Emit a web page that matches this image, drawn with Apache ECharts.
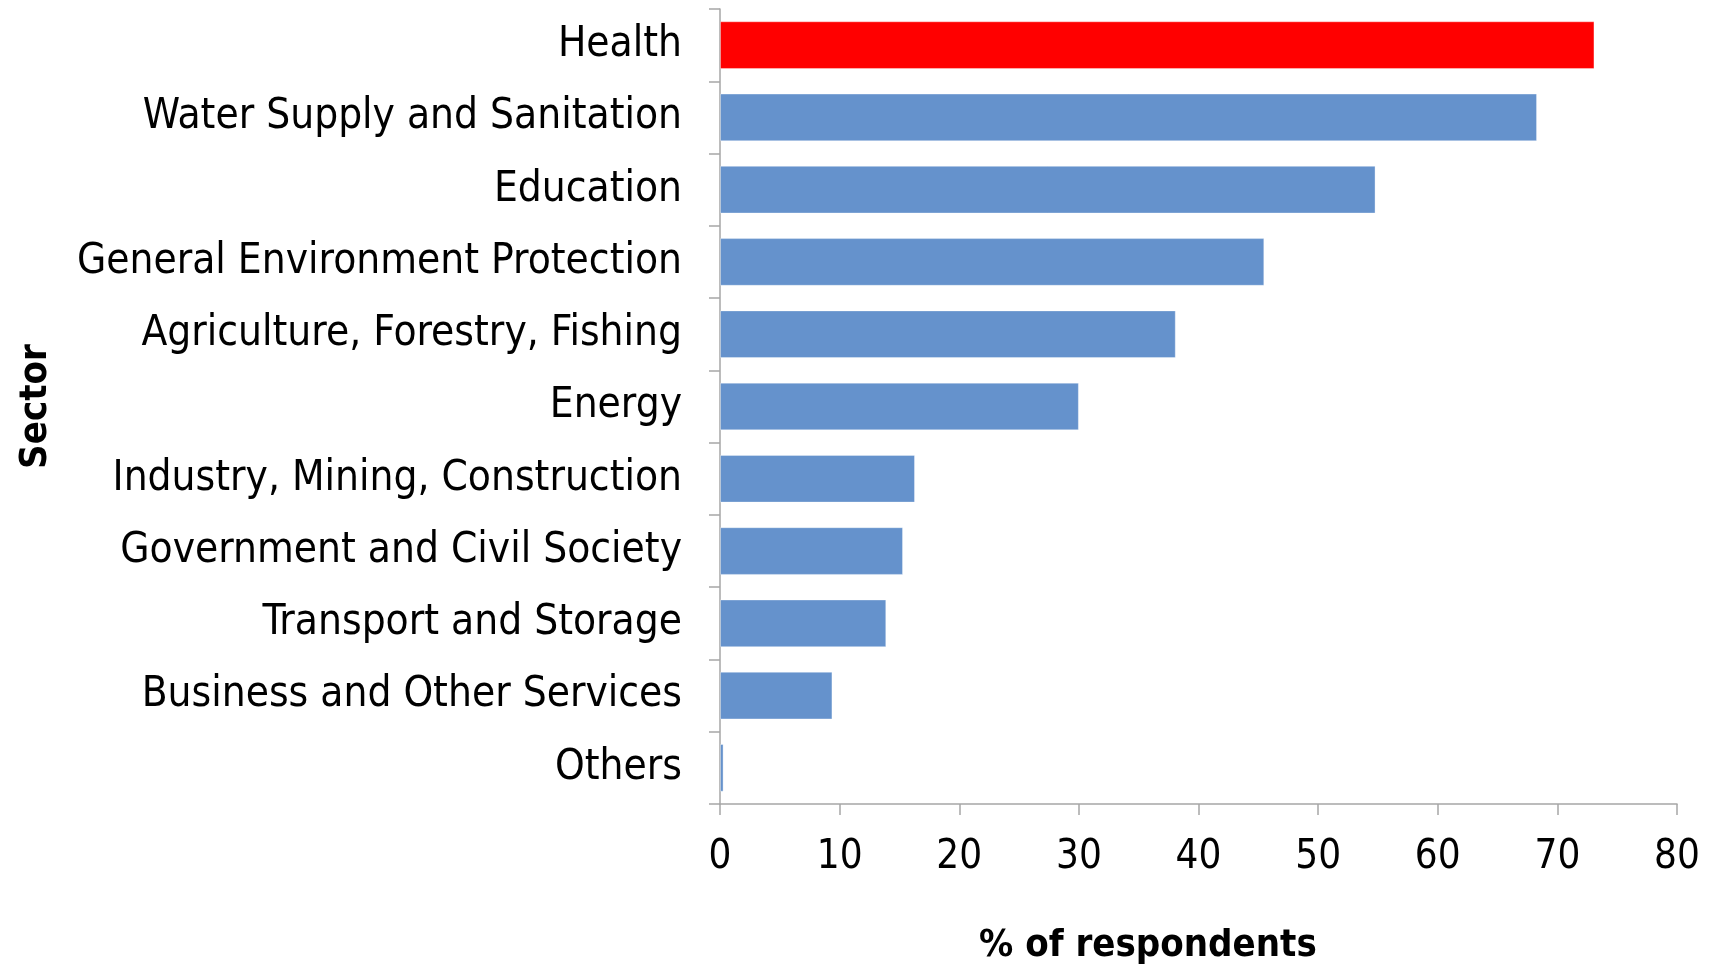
<!DOCTYPE html>
<html>
<head>
<meta charset="utf-8">
<script src="https://cdn.jsdelivr.net/npm/echarts@6/dist/echarts.min.js"></script>
<style>
html,body{margin:0;padding:0;background:#fff;}
#chart{width:1711px;height:966px;}
</style>
</head>
<body>
<div id="chart"></div>
<script>
const categories = [
  "Health",
  "Water Supply and Sanitation",
  "Education",
  "General Environment Protection",
  "Agriculture, Forestry, Fishing",
  "Energy",
  "Industry, Mining, Construction",
  "Government and Civil Society",
  "Transport and Storage",
  "Business and Other Services",
  "Others"
];
const values = [73.1, 68.3, 54.8, 45.5, 38.1, 30.0, 16.3, 15.3, 13.9, 9.4, 0.3];
const xTicks = [0, 10, 20, 30, 40, 50, 60, 70, 80];
const highlight = "Health";

const FONT = '"DejaVu Sans Condensed", "DejaVu Sans", sans-serif';
const chart = echarts.init(document.getElementById('chart'));
chart.setOption({
  animation: false,
  grid: {left: 720, right: 34, top: 9, bottom: 162, containLabel: false, outerBoundsMode: 'none'},
  xAxis: {
    type: 'value',
    min: xTicks[0],
    max: xTicks[xTicks.length - 1],
    interval: 10,
    splitLine: {show: false},
    axisLine: {show: true, lineStyle: {color: '#a6a6a6', width: 1.5}},
    axisTick: {show: true, length: 11, lineStyle: {color: '#a6a6a6', width: 1.5}},
    axisLabel: {color: '#000', fontFamily: FONT, fontSize: 40, margin: 34}
  },
  yAxis: {
    type: 'category',
    data: categories,
    inverse: true,
    name: 'Sector',
    nameLocation: 'middle',
    nameRotate: 90,
    nameGap: 665,
    nameTextStyle: {color: '#000', fontFamily: FONT, fontSize: 38, fontWeight: 'bold'},
    axisLine: {show: true, lineStyle: {color: '#a6a6a6', width: 1.5}},
    axisTick: {show: true, length: 11, lineStyle: {color: '#a6a6a6', width: 1.5}},
    axisLabel: {color: '#000', fontFamily: FONT, fontSize: 42, margin: 38}
  },
  graphic: [{
    type: 'text',
    left: 979,
    top: 927,
    style: {text: '% of respondents', fill: '#000', font: 'bold 38px ' + FONT}
  }],
  series: [{
    type: 'bar',
    data: values.map((v, i) => ({
      value: v,
      itemStyle: {color: categories[i] === highlight ? '#ff0000' : '#6592cc'}
    })),
    barCategoryGap: '34%',
    itemStyle: {borderColor: 'rgba(255,255,255,0.35)', borderWidth: 1}
  }]
});
</script>
</body>
</html>
